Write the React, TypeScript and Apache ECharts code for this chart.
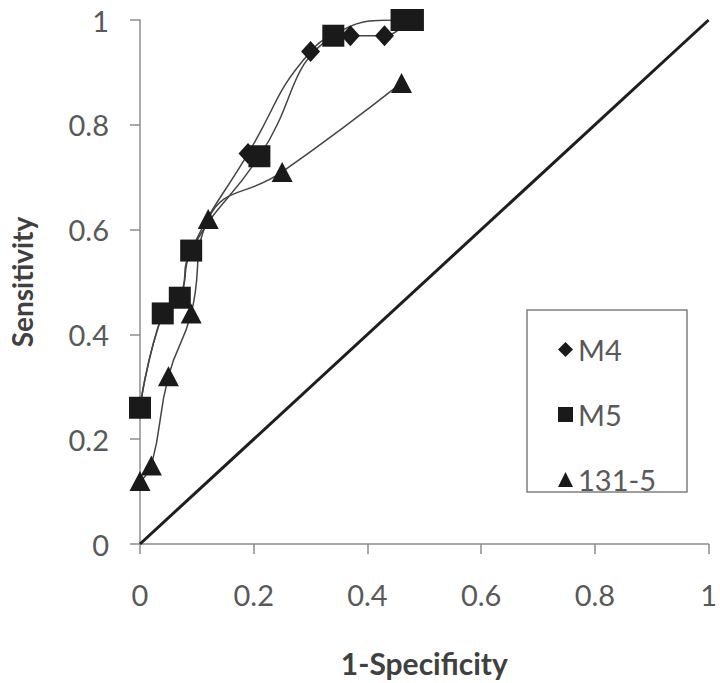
import React, { useEffect, useRef } from "react";
import * as echarts from "echarts";

// Tick settings
const axisMin = 0;
const axisMax = 1;
const axisInterval = 0.2;

// Series data
const m4X = [0, 0.04, 0.07, 0.09, 0.19, 0.3, 0.37, 0.43, 0.47];
const m4Y = [0.26, 0.44, 0.47, 0.56, 0.745, 0.94, 0.97, 0.97, 1.0];

const m5X = [0, 0.04, 0.07, 0.09, 0.21, 0.34, 0.46, 0.48];
const m5Y = [0.26, 0.44, 0.47, 0.56, 0.74, 0.97, 1.0, 1.0];

const s131X = [0, 0.02, 0.05, 0.09, 0.12, 0.25, 0.46];
const s131Y = [0.12, 0.15, 0.32, 0.44, 0.62, 0.71, 0.88];

const diagX = [0, 1];
const diagY = [0, 1];

const seriesNames = ["M4", "M5", "131-5"];

const pairs = (xs: number[], ys: number[]) => xs.map((x, i) => [x, ys[i]]);

export default function App() {
  const ref = useRef<HTMLDivElement>(null);
  useEffect(() => {
    const chart = echarts.init(ref.current!, null, { renderer: "svg" });
    const axisColor = "#8c8c8c";
    const labelColor = "#595959";
    const markColor = "#1a1a1a";
    const lineColor = "#454545";
    const font = "Lato";
    const axisCommon = {
      type: "value",
      min: axisMin,
      max: axisMax,
      interval: axisInterval,
      nameLocation: "middle",
      axisLine: { show: true, onZero: false, lineStyle: { color: axisColor, width: 1.5 } },
      axisTick: { show: true, length: 10, lineStyle: { color: axisColor, width: 1.5 } },
      splitLine: { show: false },
    };
    chart.setOption({
      animation: false,
      backgroundColor: "#ffffff",
      textStyle: { fontFamily: font },
      grid: { left: 137, right: 8, top: 20, bottom: 138, containLabel: false },
      xAxis: {
        ...axisCommon,
        name: "1-Specificity",
        nameGap: 104,
        nameTextStyle: { fontFamily: font, fontWeight: "bold", fontSize: 30, color: "#404040" },
        axisLabel: { fontFamily: font, fontSize: 29, color: labelColor, margin: 36 },
      },
      yAxis: {
        ...axisCommon,
        name: "Sensitivity",
        nameGap: 104,
        nameTextStyle: { fontFamily: font, fontWeight: "bold", fontSize: 28, color: "#404040" },
        axisLabel: { fontFamily: font, fontSize: 29, color: labelColor, margin: 31 },
      },
      graphic: [
        {
          type: "rect",
          z: 1,
          shape: { x: 527, y: 310, width: 160, height: 182 },
          style: { fill: "#ffffff", stroke: "#7f7f7f", lineWidth: 1.5 },
        },
      ],
      legend: {
        orient: "vertical",
        left: 553,
        top: 330,
        z: 10,
        itemWidth: 15,
        itemHeight: 15,
        itemGap: 36,
        selectedMode: false,
        textStyle: { fontFamily: font, fontSize: 29, color: labelColor, lineHeight: 24 },
        data: [
          { name: seriesNames[0], icon: "diamond" },
          { name: seriesNames[1], icon: "rect" },
          { name: seriesNames[2], icon: "triangle" },
        ],
      },
      series: [
        {
          type: "line",
          name: "diagonal",
          data: pairs(diagX, diagY),
          symbol: "none",
          silent: true,
          lineStyle: { color: "#1e1e1e", width: 3 },
        },
        {
          type: "line",
          name: seriesNames[0],
          data: pairs(m4X, m4Y),
          smooth: 0.5,
          symbol: "diamond",
          symbolSize: [19, 21],
          itemStyle: { color: markColor },
          lineStyle: { color: lineColor, width: 1.5 },
        },
        {
          type: "line",
          name: seriesNames[1],
          data: pairs(m5X, m5Y),
          smooth: 0.5,
          symbol: "rect",
          symbolSize: 22,
          itemStyle: { color: markColor },
          lineStyle: { color: lineColor, width: 1.5 },
        },
        {
          type: "line",
          name: seriesNames[2],
          data: pairs(s131X, s131Y),
          smooth: 0.5,
          symbol: "triangle",
          symbolSize: [21, 20],
          itemStyle: { color: markColor },
          lineStyle: { color: lineColor, width: 1.5 },
        },
      ],
    });
    return () => chart.dispose();
  }, []);
  return (
    <div
      ref={ref}
      style={{ position: "fixed", left: 0, top: 0, width: 720, height: 683, background: "#fff" }}
    />
  );
}
